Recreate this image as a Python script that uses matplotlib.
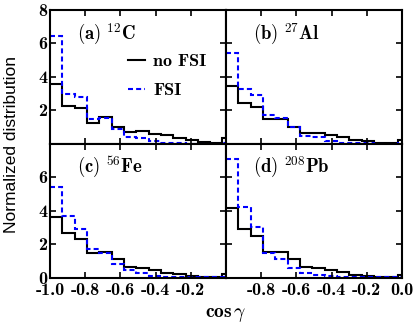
import matplotlib
matplotlib.use("Agg")
import matplotlib.pyplot as plt

# bin edges in cos(gamma), width 0.07 starting at -1
edges = [-1.0, -0.93, -0.86, -0.79, -0.72, -0.65, -0.58, -0.51,
         -0.44, -0.37, -0.30, -0.23, -0.16, -0.09, -0.02, 0.05]

# (a) 12C
c12_nofsi = [3.55, 2.25, 2.12, 1.25, 1.62, 1.02, 0.68, 0.76, 0.60, 0.50, 0.34, 0.20, 0.12, 0.07, 0.34]
c12_fsi = [6.45, 2.95, 2.82, 1.50, 1.57, 0.88, 0.40, 0.34, 0.16, 0.06, 0.03, 0.02, 0.02, 0.02, 0.05]
# (b) 27Al
al27_nofsi = [3.43, 2.45, 2.23, 1.47, 1.47, 1.02, 0.66, 0.64, 0.50, 0.38, 0.24, 0.14, 0.08, 0.05, 0.25]
al27_fsi = [5.40, 3.30, 2.90, 1.72, 1.52, 1.00, 0.45, 0.42, 0.16, 0.06, 0.04, 0.03, 0.02, 0.02, 0.05]
# (c) 56Fe
fe56_nofsi = [3.62, 2.70, 2.34, 1.47, 1.53, 1.13, 0.66, 0.60, 0.46, 0.30, 0.20, 0.10, 0.07, 0.05, 0.20]
fe56_fsi = [5.42, 3.70, 2.93, 1.73, 1.47, 0.82, 0.44, 0.28, 0.12, 0.05, 0.03, 0.03, 0.02, 0.02, 0.05]
# (d) 208Pb
pb208_nofsi = [4.15, 2.90, 2.52, 1.55, 1.55, 1.10, 0.62, 0.60, 0.46, 0.34, 0.16, 0.10, 0.07, 0.05, 0.15]
pb208_fsi = [7.09, 4.22, 3.01, 1.49, 1.09, 0.57, 0.27, 0.15, 0.08, 0.04, 0.03, 0.02, 0.02, 0.02, 0.05]

panels = [
    (r"$(\mathbf{a})\ ^{\mathbf{12}}\mathbf{C}$", c12_nofsi, c12_fsi),
    (r"$(\mathbf{b})\ ^{\mathbf{27}}\mathbf{Al}$", al27_nofsi, al27_fsi),
    (r"$(\mathbf{c})\ ^{\mathbf{56}}\mathbf{Fe}$", fe56_nofsi, fe56_fsi),
    (r"$(\mathbf{d})\ ^{\mathbf{208}}\mathbf{Pb}$", pb208_nofsi, pb208_fsi),
]

xticks = [-1.0, -0.8, -0.6, -0.4, -0.2, 0.0]
xlabels_left = ["-1.0", "-0.8", "-0.6", "-0.4", "-0.2", ""]
xlabels_right = ["", "-0.8", "-0.6", "-0.4", "-0.2", "0.0"]
yticks = [0, 2, 4, 6, 8]
ylabels_top = ["", "2", "4", "6", "8"]
ylabels_bottom = ["0", "2", "4", "6", ""]

plt.rcParams["mathtext.fontset"] = "cm"
plt.rcParams["axes.unicode_minus"] = False

fig, axes = plt.subplots(2, 2, figsize=(4.15, 3.32), dpi=100)
fig.subplots_adjust(left=0.1205, right=0.9687, bottom=0.1636, top=0.9699,
                    wspace=0, hspace=0)

tickfont = {"family": "cmb10", "size": 13}

for i, ax in enumerate(axes.flat):
    label, nofsi, fsi = panels[i]
    ax.stairs(nofsi, edges, baseline=None, color="black", lw=1.5, label="no FSI")
    ax.stairs(fsi, edges, baseline=None, color="blue", lw=1.5,
              linestyle=(0, (2.4, 1.5)), label="FSI")
    ax.set_xlim(-1.0, 0.0)
    ax.set_ylim(0, 8)
    ax.text(0.155, 0.82, label, transform=ax.transAxes, fontsize=13.5,
            va="center", ha="left")
    for s in ax.spines.values():
        s.set_linewidth(1.5)
    ax.tick_params(direction="in", top=True, right=True, length=4, width=1.2)
    ax.set_xticks(xticks)
    ax.set_yticks(yticks)
    row, col = divmod(i, 2)
    if row == 1:
        ax.set_xticklabels(xlabels_left if col == 0 else xlabels_right, fontdict=tickfont)
        ax.tick_params(axis="x", pad=4)
    else:
        ax.set_xticklabels([])
    if col == 0:
        ax.set_yticklabels(ylabels_top if row == 0 else ylabels_bottom, fontdict=tickfont)
        ax.tick_params(axis="y", pad=2)
    else:
        ax.set_yticklabels([])

axes[0, 0].legend(loc="upper left", bbox_to_anchor=(0.443, 0.677), frameon=False,
                  handlelength=0.95, handletextpad=0.45, labelspacing=0.75,
                  borderpad=0, prop={"family": "cmb10", "size": 13},
                  borderaxespad=0)

fig.text(0.028, 0.566, "Normalized distribution", rotation=90,
         ha="center", va="center", fontsize=12.5, family="Liberation Sans")
fig.text(226 / 415, 1 - 314 / 332, r"$\mathbf{cos}\,\gamma$", ha="center",
         va="center", fontsize=14)

fig.savefig("out.png", dpi=100)
